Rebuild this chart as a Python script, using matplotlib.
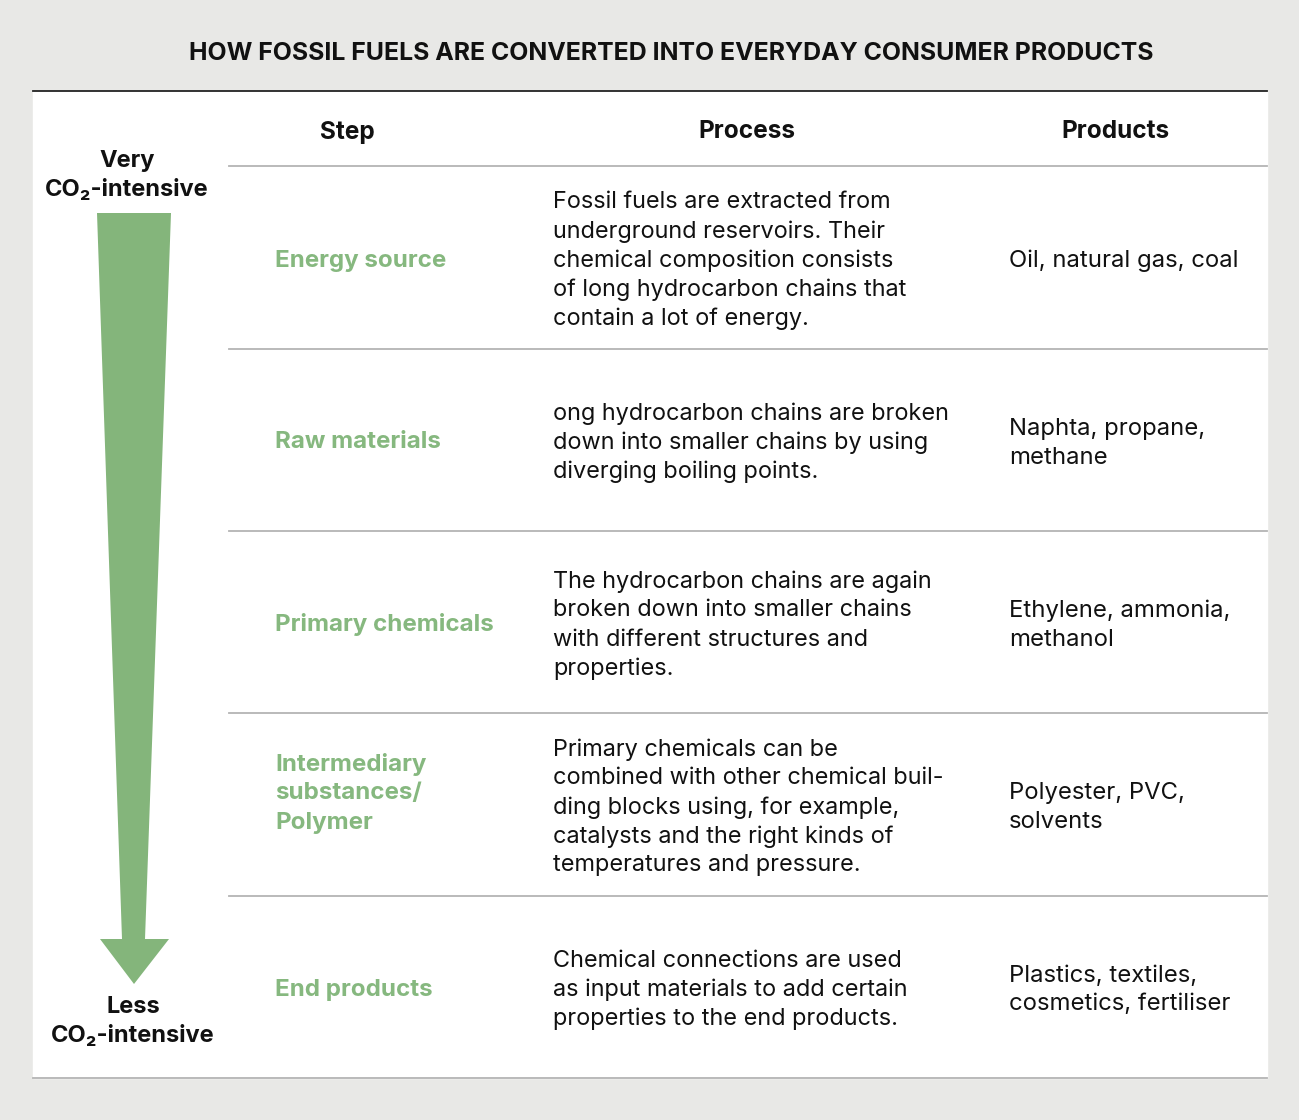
import matplotlib
matplotlib.use("Agg")
from matplotlib import pyplot
from matplotlib.patches import Polygon, Rectangle

pyplot.rcParams["font.family"] = ["Inter", "DejaVu Sans"]

TITLE = "HOW FOSSIL FUELS ARE CONVERTED INTO EVERYDAY CONSUMER PRODUCTS"
HEADERS = ["Step", "Process", "Products"]
STEPS = [
    ["Energy source"],
    ["Raw materials"],
    ["Primary chemicals"],
    ["Intermediary", "substances/", "Polymer"],
    ["End products"],
]
PROCESSES = [
    ["Fossil fuels are extracted from", "underground reservoirs. Their",
     "chemical composition consists", "of long hydrocarbon chains that",
     "contain a lot of energy."],
    ["ong hydrocarbon chains are broken", "down into smaller chains by using",
     "diverging boiling points."],
    ["The hydrocarbon chains are again", "broken down into smaller chains",
     "with different structures and", "properties."],
    ["Primary chemicals can be", "combined with other chemical buil-",
     "ding blocks using, for example,", "catalysts and the right kinds of",
     "temperatures and pressure."],
    ["Chemical connections are used", "as input materials to add certain",
     "properties to the end products."],
]
PRODUCTS = [
    ["Oil, natural gas, coal"],
    ["Naphta, propane,", "methane"],
    ["Ethylene, ammonia,", "methanol"],
    ["Polyester, PVC,", "solvents"],
    ["Plastics, textiles,", "cosmetics, fertiliser"],
]
TOP_LABEL = ["Very", "CO\u2082-intensive"]
BOTTOM_LABEL = ["Less", "CO\u2082-intensive"]

W, H = 1299, 1120
BG = "#e8e8e6"
GREEN_TEXT = "#86b87f"
GREEN_ARROW = "#84b57b"
RULE = "#b4b4b4"
INK = "#111111"
LINE_H = 29
FS = 16.9

fig = pyplot.figure(figsize=(W / 100, H / 100), dpi=100, facecolor=BG)
ax = fig.add_axes([0, 0, 1, 1])
ax.set_xlim(0, W)
ax.set_ylim(H, 0)
ax.axis("off")

# white table panel
left, right, top, bottom = 33, 1267, 91, 1078
ax.add_patch(Rectangle((left, top), right - left, bottom - top, color="white", zorder=0))
ax.plot([left, right], [top, top], color="#222222", lw=1.3)
ax.plot([left, right], [bottom, bottom], color=RULE, lw=1.3)

ax.text(671, 53, TITLE, ha="center", va="center", fontsize=17.9, fontweight="bold",
        color=INK)

# header
for label, x in zip(HEADERS, [347, 747, 1115]):
    ax.text(x, 132, label, ha="center", va="center", fontsize=17.6,
            fontweight="bold", color=INK)

row_edges = [166, 349, 531, 713, 896, 1078]
for y in row_edges[:-1]:
    ax.plot([229, right], [y, y], color=RULE, lw=1.3)


def draw_lines(x, yc, lines, **kw):
    n = len(lines)
    for i, line in enumerate(lines):
        y = yc + (i - (n - 1) / 2) * LINE_H
        ax.text(x, y, line, ha="left", va="center", **kw)


step_offsets = [3, 2, 2, -11, 3]
for i in range(len(STEPS)):
    yc = (row_edges[i] + row_edges[i + 1]) / 2
    draw_lines(275, yc + step_offsets[i], STEPS[i], fontsize=17.4,
               fontweight="bold", color=GREEN_TEXT)
    draw_lines(553, yc + 3, PROCESSES[i], fontsize=FS, color=INK)
    draw_lines(1009, yc + 3, PRODUCTS[i], fontsize=17.2, color=INK)

# arrow on the left
arrow = Polygon([(97, 213), (171, 213), (145, 939), (169, 939), (134, 984),
                 (100, 939), (122, 939)], closed=True, color=GREEN_ARROW, lw=0)
ax.add_patch(arrow)

for text, y in zip(TOP_LABEL, [161, 190]):
    ax.text(127, y, text, ha="center", va="center", fontsize=17,
            fontweight="bold", color=INK)
for text, y in zip(BOTTOM_LABEL, [1007, 1036]):
    ax.text(133, y, text, ha="center", va="center", fontsize=17,
            fontweight="bold", color=INK)

fig.savefig("out.png", dpi=100, facecolor=BG)
